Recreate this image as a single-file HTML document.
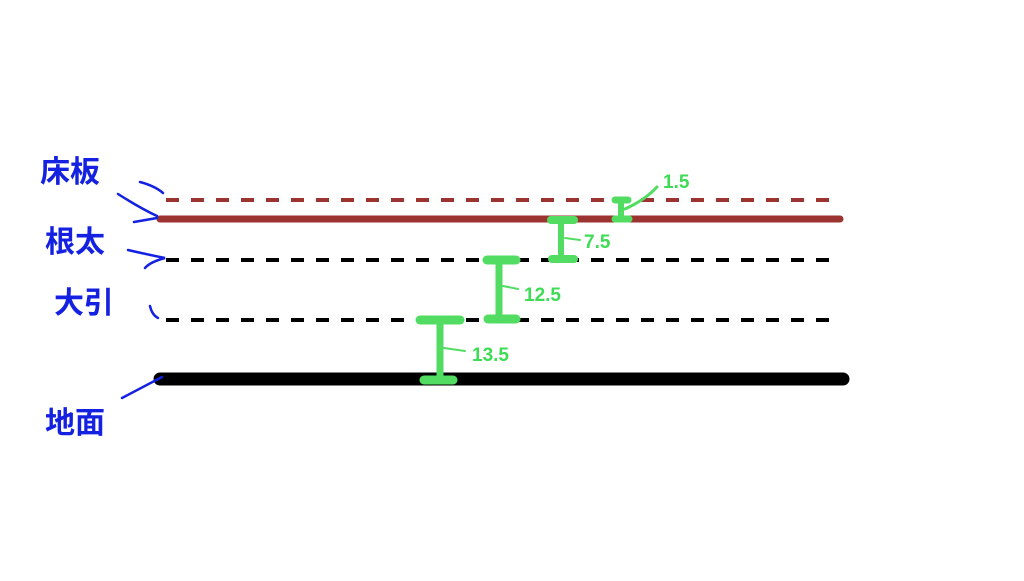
<!DOCTYPE html>
<html><head><meta charset="utf-8"><style>
body{margin:0;background:#fff;width:1024px;height:576px;overflow:hidden}
</style></head><body>
<svg width="1024" height="576" xmlns="http://www.w3.org/2000/svg">
<rect width="1024" height="576" fill="#fff"/>
<g stroke-linecap="butt">
<line x1="166" y1="200" x2="838" y2="200" stroke="#9b3331" stroke-width="4" stroke-dasharray="13,12"/>
<line x1="160" y1="219" x2="840" y2="219" stroke="#9b3331" stroke-width="7" stroke-linecap="round"/>
<line x1="166" y1="260" x2="838" y2="260" stroke="#000" stroke-width="4" stroke-dasharray="13,12"/>
<line x1="166" y1="320" x2="838" y2="320" stroke="#000" stroke-width="4" stroke-dasharray="13,12"/>
<line x1="160" y1="379" x2="843" y2="379" stroke="#000" stroke-width="13" stroke-linecap="round"/>
</g>
<g stroke="#52dd62" stroke-linecap="round" fill="none">
<line x1="440" y1="320" x2="440" y2="378" stroke-width="7"/>
<line x1="420" y1="320" x2="460" y2="320" stroke-width="9"/>
<line x1="424" y1="380" x2="453" y2="380" stroke-width="9"/>
<line x1="444" y1="348" x2="465" y2="351" stroke-width="2"/>
<line x1="499" y1="260" x2="499" y2="318" stroke-width="7"/>
<line x1="487" y1="260" x2="516" y2="260" stroke-width="9"/>
<line x1="488" y1="319" x2="516" y2="319" stroke-width="9"/>
<line x1="503" y1="286" x2="518" y2="289" stroke-width="2"/>
<line x1="561" y1="220" x2="561" y2="258" stroke-width="6"/>
<line x1="551" y1="220" x2="574" y2="220" stroke-width="8"/>
<line x1="552" y1="259" x2="574" y2="259" stroke-width="8"/>
<line x1="565" y1="238" x2="580" y2="240" stroke-width="2"/>
<line x1="621" y1="200" x2="621" y2="218" stroke-width="6"/>
<line x1="615" y1="200" x2="628" y2="200" stroke-width="7"/>
<line x1="615" y1="219" x2="629" y2="219" stroke-width="7"/>
<path d="M625 209 Q645 200 657 187" stroke-width="3"/>
</g>
<g fill="#3edb55" font-family="Liberation Sans, sans-serif" font-size="19" font-weight="bold">
<text x="472" y="361">13.5</text>
<text x="524" y="301">12.5</text>
<text x="584" y="248">7.5</text>
<text x="663" y="188">1.5</text>
</g>
<g fill="#1521e0" font-family="'Liberation Sans','Noto Sans CJK JP',sans-serif" font-size="30" font-weight="bold">
<text x="40" y="182">床板</text>
<text x="45" y="252">根太</text>
<text x="54" y="313">大引</text>
<text x="45" y="433">地面</text>
</g>
<g stroke="#1521e0" stroke-width="2.5" fill="none" stroke-linecap="round">
<path d="M140 182 Q155 186 163 193"/>
<path d="M118 194 Q140 208 157 216"/>
<path d="M134 222 L157 218"/>
<path d="M128 250 Q145 254 165 258 Q150 262 145 268"/>
<path d="M150 306 Q152 315 158 318"/>
<path d="M122 398 L162 377"/>
</g>
</svg>
</body></html>
